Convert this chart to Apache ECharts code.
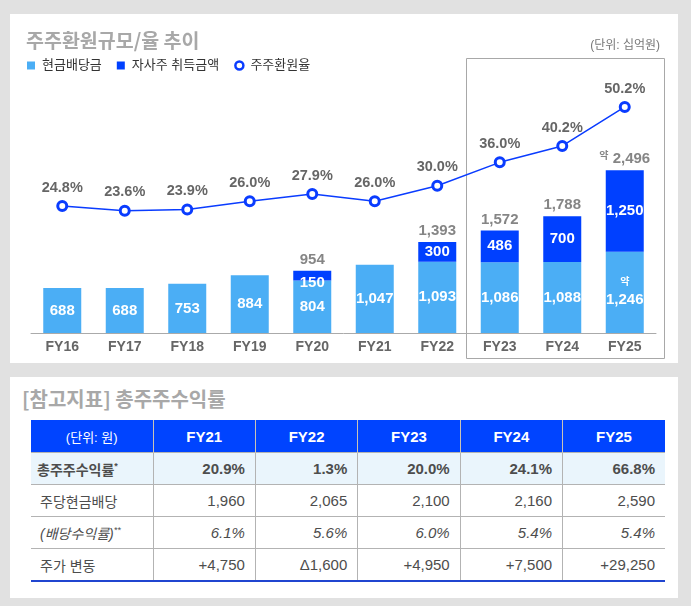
<!DOCTYPE html>
<html>
<head>
<meta charset="utf-8">
<script src="https://cdn.jsdelivr.net/npm/echarts@6/dist/echarts.min.js"></script>
<style>
body{margin:0;background:#e1e1e1;width:691px;height:606px;overflow:hidden;font-family:'Liberation Sans','Noto Sans CJK KR',sans-serif;}
#panel1{position:absolute;left:10px;top:14px;width:668px;height:349px;background:#fff;}
#chart{width:668px;height:349px;}
#panel2{position:absolute;left:10px;top:377px;width:668px;height:221px;background:#fff;}
#title2{position:absolute;left:12px;top:11px;line-height:22px;font-size:20px;font-weight:bold;color:#a8a8a8;font-family:'Noto Sans CJK KR',sans-serif;}
#tsr{position:absolute;left:21px;top:43px;width:634px;border-collapse:collapse;table-layout:fixed;color:#4d4d4d;}
#tsr td,#tsr th{padding:0;font-size:15px;}
#tsr th{background:#0044ff;color:#fff;font-weight:bold;height:32px;border-left:1px solid #c9c3b5;}
#tsr th:first-child{border-left:none;font-weight:normal;font-size:13px;}
#tsr td{height:31px;text-align:right;padding-right:10px;border-left:1px solid #b3b3b3;border-top:1px solid #b3b3b3;}
#tsr td.lab{text-align:left;padding-left:9px;padding-right:0;border-left:none;font-size:14px;}
#tsr tr.hl td{background:#eaf5fc;font-weight:bold;}
#tsr tr.hl td.lab{padding-left:6px;}
#tsr tr.it td{font-style:italic;}
#tsr tr:last-child td{border-bottom:2px solid #2045d0;}
#tsr sup{font-size:9px;vertical-align:6px;line-height:0;}
</style>
</head>
<body>
<div id="panel1"><div id="chart"></div></div>
<div id="panel2">
  <div id="title2">[참고지표] 총주주수익률</div>
  <table id="tsr"></table>
</div>
<script>
// 주주환원 추이 (단위: 십억원)
var years = ['FY16', 'FY17', 'FY18', 'FY19', 'FY20', 'FY21', 'FY22', 'FY23', 'FY24', 'FY25'];
var cashDividend = [688, 688, 753, 884, 804, 1047, 1093, 1086, 1088, 1246];
var buyback = [null, null, null, null, 150, null, 300, 486, 700, 1250];
var totalReturn = [null, null, null, null, 954, null, 1393, 1572, 1788, 2496];
var payoutRate = [24.8, 23.6, 23.9, 26.0, 27.9, 26.0, 30.0, 36.0, 40.2, 50.2];
var approxYears = ['FY25'];

// 참고지표 표
var tableYears = ['FY21', 'FY22', 'FY23', 'FY24', 'FY25'];
var tsrRate = [20.9, 1.3, 20.0, 24.1, 66.8];
var dpsCash = [1960, 2065, 2100, 2160, 2590];
var divYield = [6.1, 5.6, 6.0, 5.4, 5.4];
var priceChange = [4750, -1600, 4950, 7500, 29250];

var lightBlue = '#4baef5';
var darkBlue = '#0040ff';
var lineBlue = '#0a3cff';
var fontFam = "'Liberation Sans', 'Noto Sans CJK KR', sans-serif";

function fmt(v) {
    return v.toLocaleString('en-US');
}
function isApprox(i) {
    return approxYears.indexOf(years[i]) >= 0;
}

var myChart = echarts.init(document.getElementById('chart'));

var buybackData = buyback.map(function (v) {
    if (v == null) return '-';
    if (v < 200) {
        return {value: v, label: {offset: [0, 7]}};  // 얇은 막대는 라벨을 조금 아래로
    }
    return v;
});

var option = {
    backgroundColor: '#fff',
    textStyle: {fontFamily: fontFam},
    title: [{
        text: '주주환원규모/율 추이',
        left: 11,
        top: 12,
        textStyle: {fontSize: 19.5, fontWeight: 'bold', color: '#a8a8a8', fontFamily: "'Noto Sans CJK KR', sans-serif"}
    }, {
        text: '(단위: 십억원)',
        right: 13,
        top: 21,
        textStyle: {fontSize: 12, fontWeight: 'normal', color: '#777', fontFamily: fontFam}
    }],
    legend: {
        left: 12,
        top: 40,
        itemWidth: 8,
        itemHeight: 8,
        itemGap: 15,
        textStyle: {fontSize: 13, color: '#333', padding: [0, 0, 0, 2], fontFamily: fontFam},
        data: [
            {name: '현금배당금', icon: 'rect'},
            {name: '자사주 취득금액', icon: 'rect'},
            {name: '주주환원율', icon: 'circle', itemStyle: {color: '#fff', borderColor: lineBlue, borderWidth: 2.5}}
        ]
    },
    grid: {
        left: 21,
        right: 22,
        top: 58,
        bottom: 30,
        containLabel: false,
        outerBoundsMode: 'none'
    },
    xAxis: {
        type: 'category',
        data: years,
        axisTick: {show: false},
        axisLine: {lineStyle: {color: '#aaa', width: 1}},
        axisLabel: {margin: 7, fontSize: 14, fontWeight: 'bold', color: '#666', fontFamily: fontFam}
    },
    yAxis: [{
        type: 'value',
        min: 0,
        max: 4000,
        show: false,
        splitLine: {show: false}
    }, {
        type: 'value',
        min: -7.76,
        max: 59.16,
        show: false,
        splitLine: {show: false}
    }],
    series: [{
        name: '현금배당금',
        type: 'bar',
        stack: 'total',
        barWidth: 38,
        itemStyle: {color: lightBlue},
        label: {
            show: true,
            position: 'inside',
            color: '#fff',
            fontSize: 15,
            fontWeight: 'bold',
            formatter: function (p) {
                if (isApprox(p.dataIndex)) return '{s|약}\n{v|' + fmt(p.value) + '}';
                return fmt(p.value);
            },
            rich: {
                s: {fontSize: 10, lineHeight: 16, color: '#fff', fontWeight: 'bold', align: 'center'},
                v: {fontSize: 15, lineHeight: 20, color: '#fff', fontWeight: 'bold', align: 'center'}
            }
        },
        data: cashDividend
    }, {
        name: '자사주 취득금액',
        type: 'bar',
        stack: 'total',
        barWidth: 38,
        itemStyle: {color: darkBlue},
        label: {
            show: true,
            position: 'inside',
            color: '#fff',
            fontSize: 15,
            fontWeight: 'bold',
            formatter: function (p) {
                return fmt(p.value);
            }
        },
        data: buybackData
    }, {
        name: '합계',
        type: 'scatter',
        symbolSize: 1,
        itemStyle: {color: 'transparent'},
        silent: true,
        label: {
            show: true,
            position: 'top',
            distance: 3,
            color: '#666',
            fontSize: 15,
            fontWeight: 'bold',
            formatter: function (p) {
                if (isApprox(p.dataIndex)) return '{s|약} ' + fmt(p.value);
                return fmt(p.value);
            },
            rich: {
                s: {fontSize: 10, color: '#666', fontWeight: 'bold', padding: [0, 0, 5, 0]}
            }
        },
        data: totalReturn.map(function (v) { return v == null ? '-' : v; })
    }, {
        name: '주주환원율',
        type: 'line',
        yAxisIndex: 1,
        symbol: 'circle',
        symbolSize: 9,
        itemStyle: {color: '#fff', borderColor: lineBlue, borderWidth: 3},
        lineStyle: {color: lineBlue, width: 1.5},
        label: {
            show: true,
            position: 'top',
            distance: 5,
            color: '#666',
            fontSize: 14.5,
            fontWeight: 'bold',
            formatter: function (p) {
                return p.value.toFixed(1) + '%';
            }
        },
        z: 5,
        data: payoutRate
    }]
};

myChart.setOption(option);

// FY23~FY25 강조 박스
var band = myChart.getModel().getComponent('grid').coordinateSystem.getRect().width / years.length;
var c23 = myChart.convertToPixel({xAxisIndex: 0}, 'FY23');
var c25 = myChart.convertToPixel({xAxisIndex: 0}, 'FY25');
var boxLeft = c23 - band / 2 - 3;
var boxRight = c25 + band / 2 + 7;
myChart.setOption({
    graphic: [{
        type: 'rect',
        z: -10,
        shape: {x: Math.round(boxLeft) + 0.5, y: 44.5, width: Math.round(boxRight - boxLeft), height: 300},
        style: {fill: 'none', stroke: '#a8a8a8', lineWidth: 1}
    }]
});

// 참고지표 표
function buildTable() {
    var t = document.getElementById('tsr');
    var html = '<colgroup><col style="width:122px">';
    tableYears.forEach(function () { html += '<col>'; });
    html += '</colgroup><tr><th>(단위: 원)</th>';
    tableYears.forEach(function (y) { html += '<th>' + y + '</th>'; });
    html += '</tr>';

    var rows = [
        {cls: 'hl', label: '총주주수익률<sup>*</sup>', vals: tsrRate.map(function (v) { return v.toFixed(1) + '%'; })},
        {cls: '', label: '주당현금배당', vals: dpsCash.map(fmt)},
        {cls: 'it', label: '(배당수익률)<sup>**</sup>', vals: divYield.map(function (v) { return v.toFixed(1) + '%'; })},
        {cls: '', label: '주가 변동', vals: priceChange.map(function (v) { return v >= 0 ? '+' + fmt(v) : 'Δ' + fmt(-v); })}
    ];
    rows.forEach(function (r) {
        html += '<tr class="' + r.cls + '"><td class="lab">' + r.label + '</td>';
        r.vals.forEach(function (v) { html += '<td>' + v + '</td>'; });
        html += '</tr>';
    });
    t.innerHTML = html;
}
buildTable();
</script>
</body>
</html>
